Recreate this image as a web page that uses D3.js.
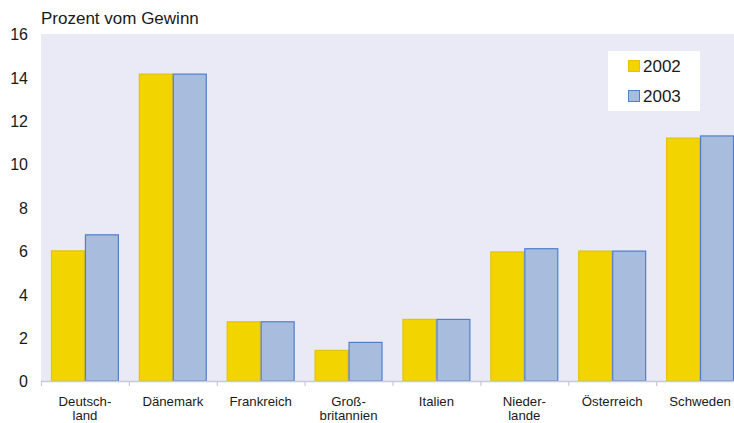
<!DOCTYPE html>
<html><head><meta charset="utf-8">
<script src="https://cdn.jsdelivr.net/npm/d3@7"></script>
<style>
html,body{margin:0;padding:0;background:#fff;overflow:hidden;}
svg{display:block;font-family:"Liberation Sans",Arial,sans-serif;}
</style></head>
<body>
<svg id="chart" width="734" height="423"></svg>
<script>
const categories = ["Deutsch-\nland","Dänemark","Frankreich","Groß-\nbritannien","Italien","Nieder-\nlande","Österreich","Schweden"];
const seriesNames = ["2002","2003"];
const values2002 = [6.0, 14.15, 2.73, 1.41, 2.84, 5.95, 5.99, 11.2];
const values2003 = [6.74, 14.15, 2.73, 1.78, 2.84, 6.1, 5.99, 11.3];
const yTicks = [0,2,4,6,8,10,12,14,16];
const title = "Prozent vom Gewinn";

(function(){
const fills = ["#F2D500","#A8BCDD"];
const strokes = ["#E6C200","#4F7FCB"];
const series = [values2002, values2003];

const svg = d3.select("#chart");
const mLeft = 41, mRight = 744, mTop = 34, mBottom = 381;

const x0 = d3.scaleBand().domain(categories).range([mLeft, mRight]).padding(0);
const x1 = d3.scaleBand().domain(seriesNames).range([0, x0.bandwidth()]).paddingInner(0).paddingOuter(0.294);
const y = d3.scaleLinear().domain([0,16]).range([mBottom, mTop]);

svg.append("rect").attr("x", mLeft).attr("y", mTop).attr("width", mRight-mLeft).attr("height", mBottom-mTop).attr("fill", "#E9EAF6");

// bars
categories.forEach((c, i) => {
  seriesNames.forEach((s, j) => {
    const v = series[j][i];
    svg.append("rect")
      .attr("x", x0(c) + x1(s) + 0.5)
      .attr("y", y(v))
      .attr("width", x1.bandwidth() - 1)
      .attr("height", y(0) - y(v))
      .attr("fill", fills[j])
      .attr("stroke", strokes[j])
      .attr("stroke-width", 1.2);
  });
});

// x axis line and ticks at band boundaries
const axisColor = "#C6C9DA";
svg.append("line").attr("x1", mLeft).attr("x2", mRight).attr("y1", mBottom+0.5).attr("y2", mBottom+0.5).attr("stroke", axisColor).attr("stroke-width", 1.5);
const bounds = categories.map(c => x0(c)).concat([x0(categories[categories.length-1]) + x0.bandwidth()]);
bounds.forEach(bx => {
  svg.append("line").attr("x1", bx+0.5).attr("x2", bx+0.5).attr("y1", mBottom).attr("y2", mBottom+5).attr("stroke", axisColor).attr("stroke-width", 1.2);
});

// x labels
const xAxis = d3.axisBottom(x0).tickSize(0).tickFormat("");
const xg = svg.append("g").attr("transform", `translate(0,${mBottom})`).call(xAxis);
xg.select(".domain").remove();
xg.selectAll(".tick").each(function(d){
  const t = d3.select(this).append("text")
    .attr("fill", "#1a1a1a").attr("font-size", "13.2px").attr("text-anchor", "middle");
  d.split("\n").forEach((ln, k) => {
    t.append("tspan").attr("x", 0).attr("y", 24.5 + k*14.5).text(ln);
  });
});

// y axis
const yAxis = d3.axisLeft(y).tickValues(yTicks).tickSize(0).tickPadding(0);
const yg = svg.append("g").attr("transform", `translate(28,0)`).call(yAxis);
yg.select(".domain").remove();
yg.selectAll("text").attr("font-size", "16px").attr("fill", "#1a1a1a").attr("font-family", "Liberation Sans, Arial, sans-serif").attr("dy", "0.36em");

// title
svg.append("text").attr("x", 41).attr("y", 24).attr("font-size", "17px").attr("fill", "#1a1a1a").text(title);

// legend
const lg = svg.append("g");
lg.append("rect").attr("x", 608).attr("y", 51).attr("width", 92).attr("height", 60).attr("fill", "#fff");
seriesNames.forEach((s, j) => {
  const cy = 66 + j*30;
  lg.append("rect").attr("x", 628.5).attr("y", cy - 5.5).attr("width", 11).attr("height", 11)
    .attr("fill", fills[j]).attr("stroke", strokes[j]).attr("stroke-width", 1);
  lg.append("text").attr("x", 643).attr("y", cy).attr("dy", "0.36em").attr("font-size", "17px").attr("fill", "#1a1a1a").text(s);
});
})();
</script>
</body></html>
